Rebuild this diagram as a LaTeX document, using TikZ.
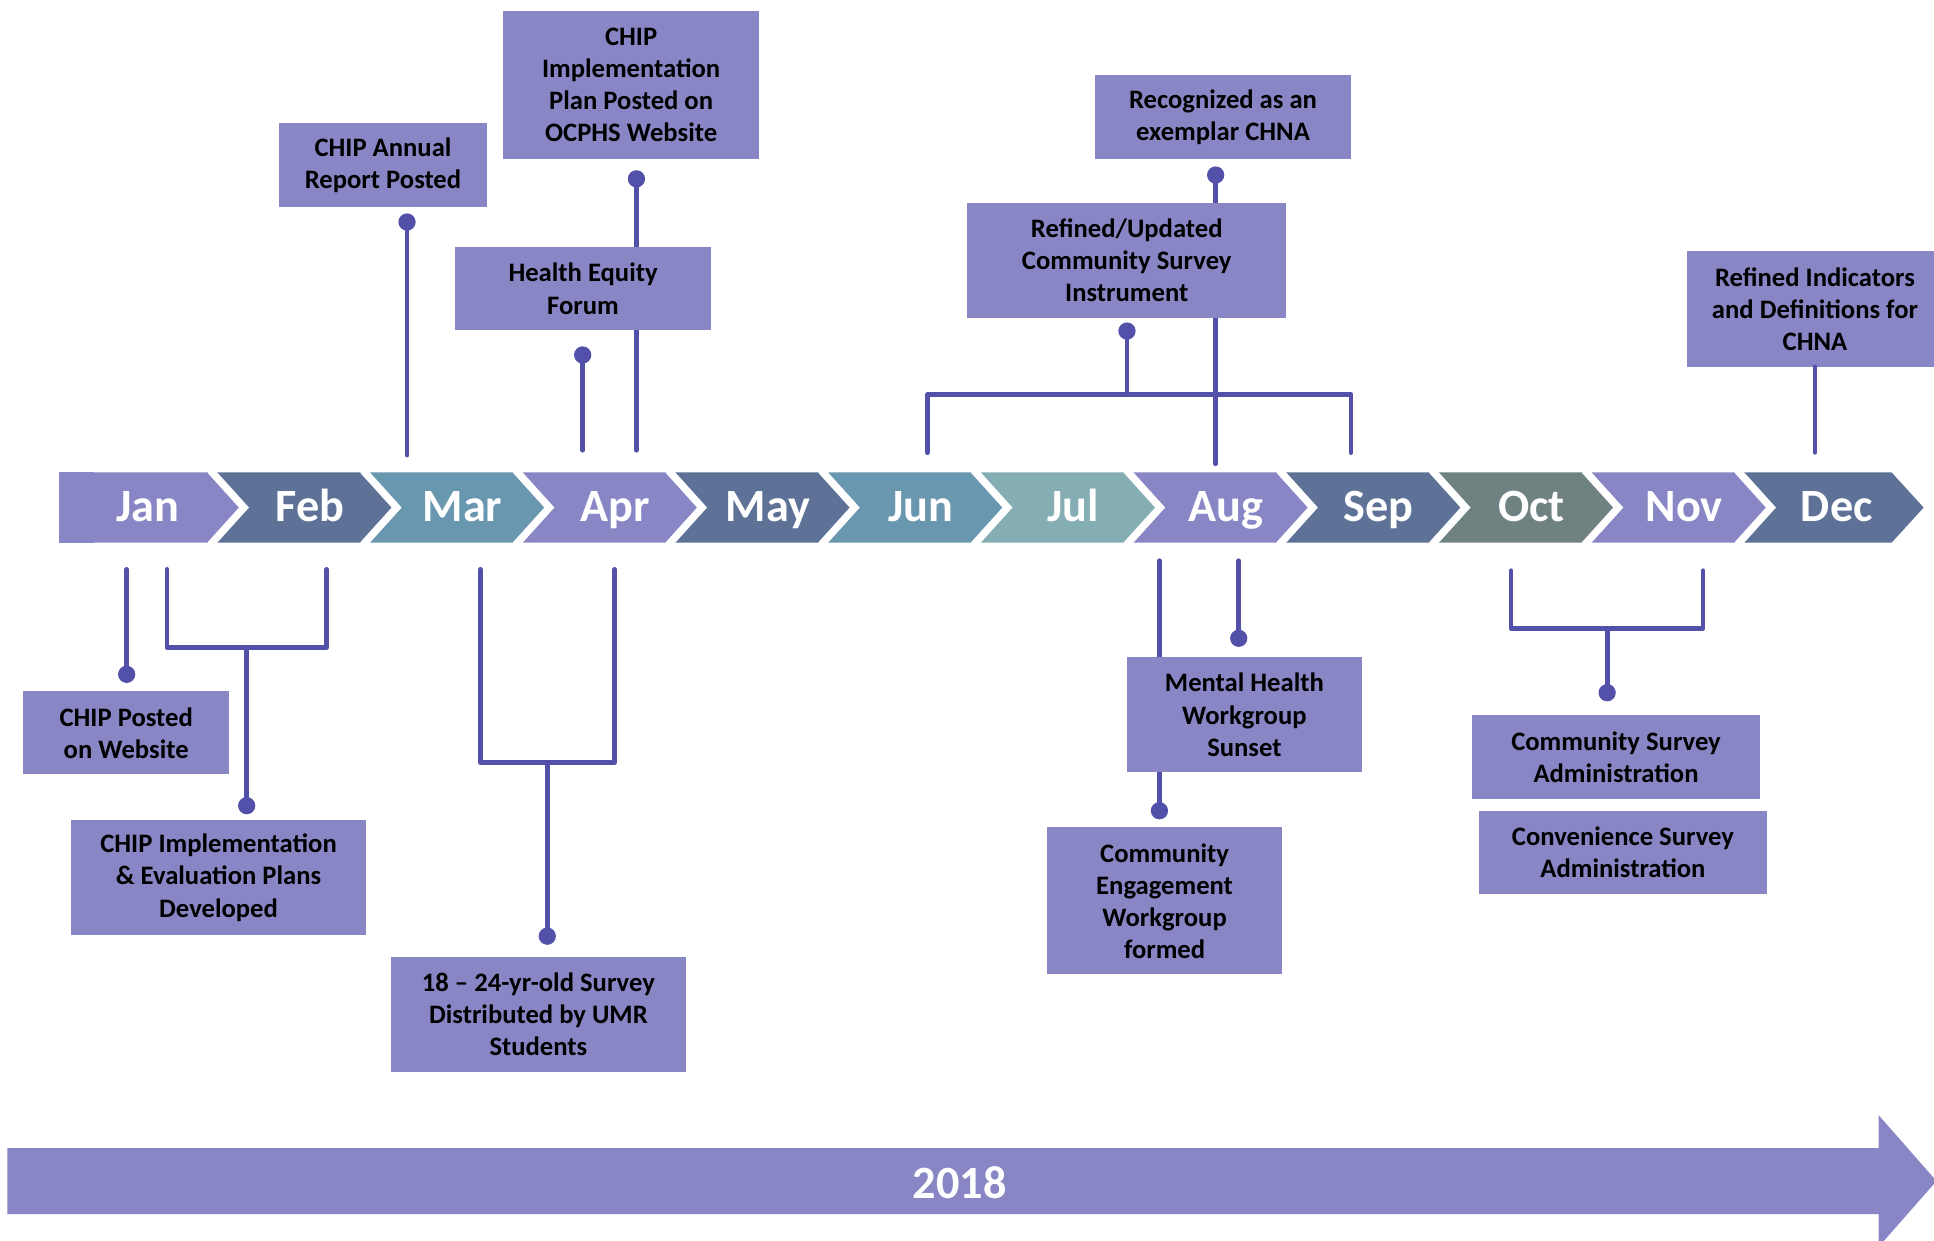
\documentclass[tikz,border=0pt]{standalone}
\usepackage{fontspec}
\setmainfont{Carlito}
\definecolor{boxfill}{HTML}{8886C5}
\definecolor{connc}{HTML}{5350AA}
\definecolor{mpurple}{HTML}{8886C5}
\definecolor{mslate}{HTML}{5E7298}
\definecolor{mteal}{HTML}{6897AF}
\definecolor{mlteal}{HTML}{84ADB4}
\definecolor{mgray}{HTML}{6F8281}
\tikzset{
  evbox/.style={fill=boxfill, inner sep=0pt, align=center, text=black,
    font=\bfseries\fontsize{21.6}{26}\selectfont,
    execute at begin node={\rule{0pt}{23pt}}},
  conn/.style={draw=connc, line width=3.8pt, line cap=round, line join=round},
  evdot/.style={fill=connc},
  month/.style={anchor=base, text=white, font=\bfseries\fontsize{37.5}{40}\selectfont},
}
\begin{document}
\begin{tikzpicture}[x=1pt, y=-1pt]
\useasboundingbox (0,0) rectangle (1568,1006);
\clip (0,0) rectangle (1568,1006);

% ---- month chevrons ----
\foreach \c [count=\i from 0] in {mpurple,mslate,mteal,mpurple,mslate,mteal,mlteal,mpurple,mslate,mgray,mpurple,mslate} {
  \pgfmathsetmacro\a{48+123.8*\i}
  \pgfmathsetmacro\b{48+123.8*(\i+1)}
  \fill[\c] (\a,383) -- (\b,383) -- (\b+26,411.5) -- (\b,440) -- (\a,440) -- (\a+26,411.5) -- cycle;
}
\fill[mpurple] (48,383) rectangle (76,440);
\foreach \i in {1,...,11} {
  \pgfmathsetmacro\a{48+123.8*\i}
  \draw[white, line width=6pt, line join=miter] (\a-1.3,381.3) -- (\a+26,411.5) -- (\a-1.3,441.7);
}
\node[month] (jan) at (120,423) {Jan};
\node[month] (feb) at (251.2,423) {Feb};
\node[month] (mar) at (375,423) {Mar};
\node[month] (apr) at (498.8,423) {Apr};
\node[month] (may) at (622.6,423) {May};
\node[month] (jun) at (746.4,423) {Jun};
\node[month] (jul) at (870.2,423) {Jul};
\node[month] (aug) at (994,423) {Aug};
\node[month] (sep) at (1117.8,423) {Sep};
\node[month] (oct) at (1241.6,423) {Oct};
\node[month] (nov) at (1365.4,423) {Nov};
\node[month] (dec) at (1489.2,423) {Dec};

% ---- year arrow ----
\fill[mpurple] (6,930.8) -- (1523,930.8) -- (1523,904) -- (1570,957.5) -- (1523,1011) -- (1523,984.3) -- (6,984.3) -- cycle;
\node[anchor=base, text=white, font=\bfseries\fontsize{37.5}{40}\selectfont] (year) at (778,971.5) {2018};

% ---- connector coordinates ----
\coordinate (arDot) at (330,180);     \coordinate (arEnd) at (330,369);
\coordinate (ocDot) at (516,145);     \coordinate (ocEnd) at (516,365);
\coordinate (heDot) at (472.4,287.8); \coordinate (heEnd) at (472.4,365);
\coordinate (reDot) at (985.6,141.9); \coordinate (reEnd) at (985.6,376);
\coordinate (ruDot) at (913.7,268.4); \coordinate (ruMid) at (913.7,320);
\coordinate (junA) at (752,367);      \coordinate (junB) at (752,320);
\coordinate (sepB) at (1095.4,320);   \coordinate (sepA) at (1095.4,367);
\coordinate (riEnd) at (1471.5,366.7);

\coordinate (cpTop) at (102.7,461.6); \coordinate (cpDot) at (102.7,546.7);
\coordinate (jfA) at (135.4,461.6);   \coordinate (jfB) at (135.4,524.8);
\coordinate (jfC) at (264.8,524.8);   \coordinate (jfD) at (264.8,461.6);
\coordinate (jfMid) at (200,524.8);   \coordinate (jfDot) at (200,653.2);
\coordinate (maA) at (389.4,461.6);   \coordinate (maB) at (389.4,618);
\coordinate (maC) at (498.4,618);     \coordinate (maD) at (498.4,461.6);
\coordinate (maMid) at (443.7,618);   \coordinate (maDot) at (443.7,759);
\coordinate (ceTop) at (940,454.6);   \coordinate (ceDot) at (940,657.3);
\coordinate (mhTop) at (1004.3,454.6);\coordinate (mhDot) at (1004.3,517.5);
\coordinate (onA) at (1225,462.7);    \coordinate (onB) at (1225,509.4);
\coordinate (onC) at (1380.7,509.4);  \coordinate (onD) at (1380.7,462.7);
\coordinate (onMid) at (1303,509.4);  \coordinate (onDot) at (1303,561.6);

% ---- connectors ----
\draw[conn] (arDot) -- (arEnd);
\draw[conn] (ocDot) -- (ocEnd);
\draw[conn] (heDot) -- (heEnd);
\draw[conn] (reDot) -- (reEnd);
\draw[conn] (ruDot) -- (ruMid);
\draw[conn] (junA) -- (junB) -- (sepB) -- (sepA);
\draw[conn] (cpTop) -- (cpDot);
\draw[conn] (jfA) -- (jfB) -- (jfC) -- (jfD);
\draw[conn] (jfMid) -- (jfDot);
\draw[conn] (maA) -- (maB) -- (maC) -- (maD);
\draw[conn] (maMid) -- (maDot);
\draw[conn] (ceTop) -- (ceDot);
\draw[conn] (mhTop) -- (mhDot);
\draw[conn] (onA) -- (onB) -- (onC) -- (onD);
\draw[conn] (onMid) -- (onDot);

% ---- event boxes ----
\node[evbox, minimum width=168.6pt, minimum height=68pt] (annual) at (310.5,133.7) {CHIP Annual\\Report Posted};
\node[evbox, minimum width=207.4pt, minimum height=119.6pt] (ocphs) at (511.7,68.8) {CHIP\\Implementation\\Plan Posted on\\OCPHS Website};
\node[evbox, minimum width=207.5pt, minimum height=67.7pt] (equity) at (472.7,234.1) {Health Equity\\Forum};
\node[evbox, minimum width=207.6pt, minimum height=67.8pt] (exemplar) at (991.6,94.7) {Recognized as an\\exemplar CHNA};
\node[evbox, minimum width=259pt, minimum height=93.2pt] (instrument) at (913.5,211.3) {Refined/Updated\\Community Survey\\Instrument};
\node[evbox, minimum width=208pt, minimum height=93.8pt] (indicators) at (1471.5,250.4) {Refined Indicators\\and Definitions for\\CHNA};
\node[evbox, minimum width=167.4pt, minimum height=67.2pt] (posted) at (102.3,594.2) {CHIP Posted\\on Website};
\node[evbox, minimum width=239.2pt, minimum height=93.2pt] (plans) at (177.2,711.6) {CHIP Implementation\\\& Evaluation Plans\\Developed};
\node[evbox, minimum width=239pt, minimum height=93pt] (survey1824) at (436.5,822.5) {18 – 24-yr-old Survey\\Distributed by UMR\\Students};
\node[evbox, minimum width=190.3pt, minimum height=93pt] (mental) at (1008.9,579.5) {Mental Health\\Workgroup\\Sunset};
\node[evbox, minimum width=190.4pt, minimum height=119.2pt] (engage) at (944.2,730.4) {Community\\Engagement\\Workgroup\\formed};
\node[evbox, minimum width=233.6pt, minimum height=67.8pt] (commsurv) at (1310.2,613.6) {Community Survey\\Administration};
\node[evbox, minimum width=233.6pt, minimum height=67.5pt] (convsurv) at (1315.8,691.3) {Convenience Survey\\Administration};

\draw[conn] (indicators.south) -- (riEnd);

% ---- dots ----
\foreach \d in {arDot,ocDot,heDot,reDot,ruDot,cpDot,jfDot,maDot,ceDot,mhDot,onDot}
  \fill[evdot] (\d) circle (7pt);
\end{tikzpicture}
\end{document}
